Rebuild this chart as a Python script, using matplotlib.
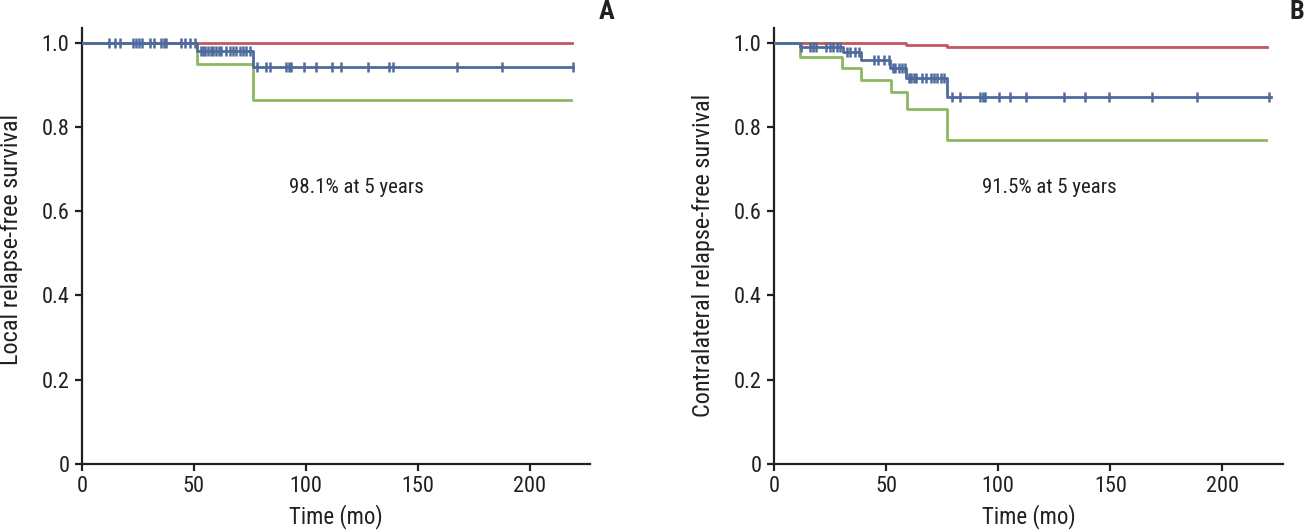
import numpy as np
import matplotlib
matplotlib.use("Agg")
import matplotlib.pyplot as plt

plt.rcParams['font.family'] = ['Liberation Sans Narrow', 'Roboto Condensed', 'Liberation Sans', 'DejaVu Sans']

# ---------------- Data: panel A (local relapse-free survival) ----------------
a_red_t = [0, 219]
a_red_s = [1.0, 1.0]
a_blue_t = [0, 51.5, 76.5, 219.5]
a_blue_s = [1.0, 0.981, 0.943, 0.943]
a_green_t = [0, 51.5, 76.5, 218.5]
a_green_s = [1.0, 0.949, 0.863, 0.863]
a_censor = [12.2, 14.8, 17.1, 22.6, 24.1, 25.3, 26.8, 30.5, 32.3, 35.3, 36.8, 37.7,
            44.4, 46.2, 48.4, 50.7,
            53.0, 54.0, 55.0, 56.5, 57.5, 58.5, 60.0, 61.0, 62.0, 64.5, 66.0, 67.5,
            69.0, 70.5, 72.0, 73.5, 75.0,
            78.3, 82.0, 84.0, 91.0, 92.5, 93.5, 99.2, 104.4, 111.6, 115.6, 127.9,
            137.3, 138.8, 167.6, 187.8, 219.4]
a_text = "98.1% at 5 years"

# ---------------- Data: panel B (contralateral relapse-free survival) ----------------
b_red_t = [0, 58.9, 77.3, 220]
b_red_s = [1.0, 0.995, 0.989, 0.989]
b_blue_t = [0, 11.4, 30.9, 38.8, 51.8, 58.9, 77.3, 221.5]
b_blue_s = [1.0, 0.991, 0.979, 0.959, 0.939, 0.916, 0.871, 0.871]
b_green_t = [0, 11.4, 30.5, 39.0, 52.0, 59.2, 77.0, 219.6]
b_green_s = [1.0, 0.967, 0.939, 0.912, 0.882, 0.843, 0.769, 0.769]
b_censor = [11.9, 15.9, 17.4, 18.9, 23.4, 24.9, 26.4, 27.9, 29.4,
            32.4, 33.9, 36.1, 37.9,
            44.4, 46.3, 48.9, 51.4,
            53.0, 54.1, 55.6, 57.1, 58.6,
            60.0, 61.3, 62.3, 63.4, 66.1, 67.9, 69.8, 71.3, 72.8, 74.3, 75.8,
            79.2, 82.8, 91.9, 93.0, 94.2, 100.2, 105.3, 112.4, 129.2, 138.6, 149.5,
            168.6, 188.8, 220.9]
b_text = "91.5% at 5 years"

x_ticks = [0, 50, 100, 150, 200]
y_ticks = [0, 0.2, 0.4, 0.6, 0.8, 1.0]
y_ticklabels = ["0", "0.2", "0.4", "0.6", "0.8", "1.0"]

RED = '#C4565F'
BLUE = '#4F6A9D'
GREEN = '#8CB862'
INK = '#231F20'


def step_value(t, s, x):
    idx = np.searchsorted(np.asarray(t), np.asarray(x), side='right') - 1
    return np.asarray(s)[idx]


def panel(ax, rt, rs, bt, bs, gt, gs, censor, text, ylabel, ylab_y):
    ax.step(rt, rs, where='post', color=RED, lw=2.0, zorder=2)
    ax.step(gt, gs, where='post', color=GREEN, lw=2.0, zorder=3)
    ax.step(bt, bs, where='post', color=BLUE, lw=2.0, zorder=4)
    cy = step_value(bt, bs, censor)
    ax.plot(censor, cy, ls='none', marker='|', ms=7.5, mew=1.8, color=BLUE, zorder=5)
    ax.set_xlim(0, 227)
    ax.set_ylim(0, 1.035)
    ax.set_xticks(x_ticks)
    ax.set_yticks(y_ticks)
    ax.set_yticklabels(y_ticklabels)
    for sp in ['top', 'right']:
        ax.spines[sp].set_visible(False)
    for sp in ['left', 'bottom']:
        ax.spines[sp].set_linewidth(1.6)
        ax.spines[sp].set_color(INK)
    ax.tick_params(axis='both', direction='out', length=5, width=1.6, colors=INK,
                   labelsize=16, labelcolor=INK, pad=4)
    ax.set_xlabel("Time (mo)", fontsize=16.5, color=INK, labelpad=5)
    ax.set_ylabel(ylabel, fontsize=17.5, color=INK)
    ax.yaxis.set_label_coords(-0.116, ylab_y)
    ax.text(122.8, 0.656, text, fontsize=15, color=INK, ha='center', va='center')


fig = plt.figure(figsize=(13.06, 5.30), dpi=100)
axA = fig.add_axes([82 / 1306, 66 / 530, 508 / 1306, 436 / 530])
axB = fig.add_axes([774 / 1306, 66 / 530, 509 / 1306, 436 / 530])

panel(axA, a_red_t, a_red_s, a_blue_t, a_blue_s, a_green_t, a_green_s, a_censor, a_text,
      "Local relapse-free survival", 0.515)
panel(axB, b_red_t, b_red_s, b_blue_t, b_blue_s, b_green_t, b_green_s, b_censor, b_text,
      "Contralateral relapse-free survival", 0.479)

fig.text(607 / 1306, 1 - 12 / 530, "A", fontsize=19, fontweight='bold', color=INK,
         ha='center', va='center')
fig.text(1297 / 1306, 1 - 12 / 530, "B", fontsize=19, fontweight='bold', color=INK,
         ha='center', va='center')

fig.savefig("out.png", dpi=100)
